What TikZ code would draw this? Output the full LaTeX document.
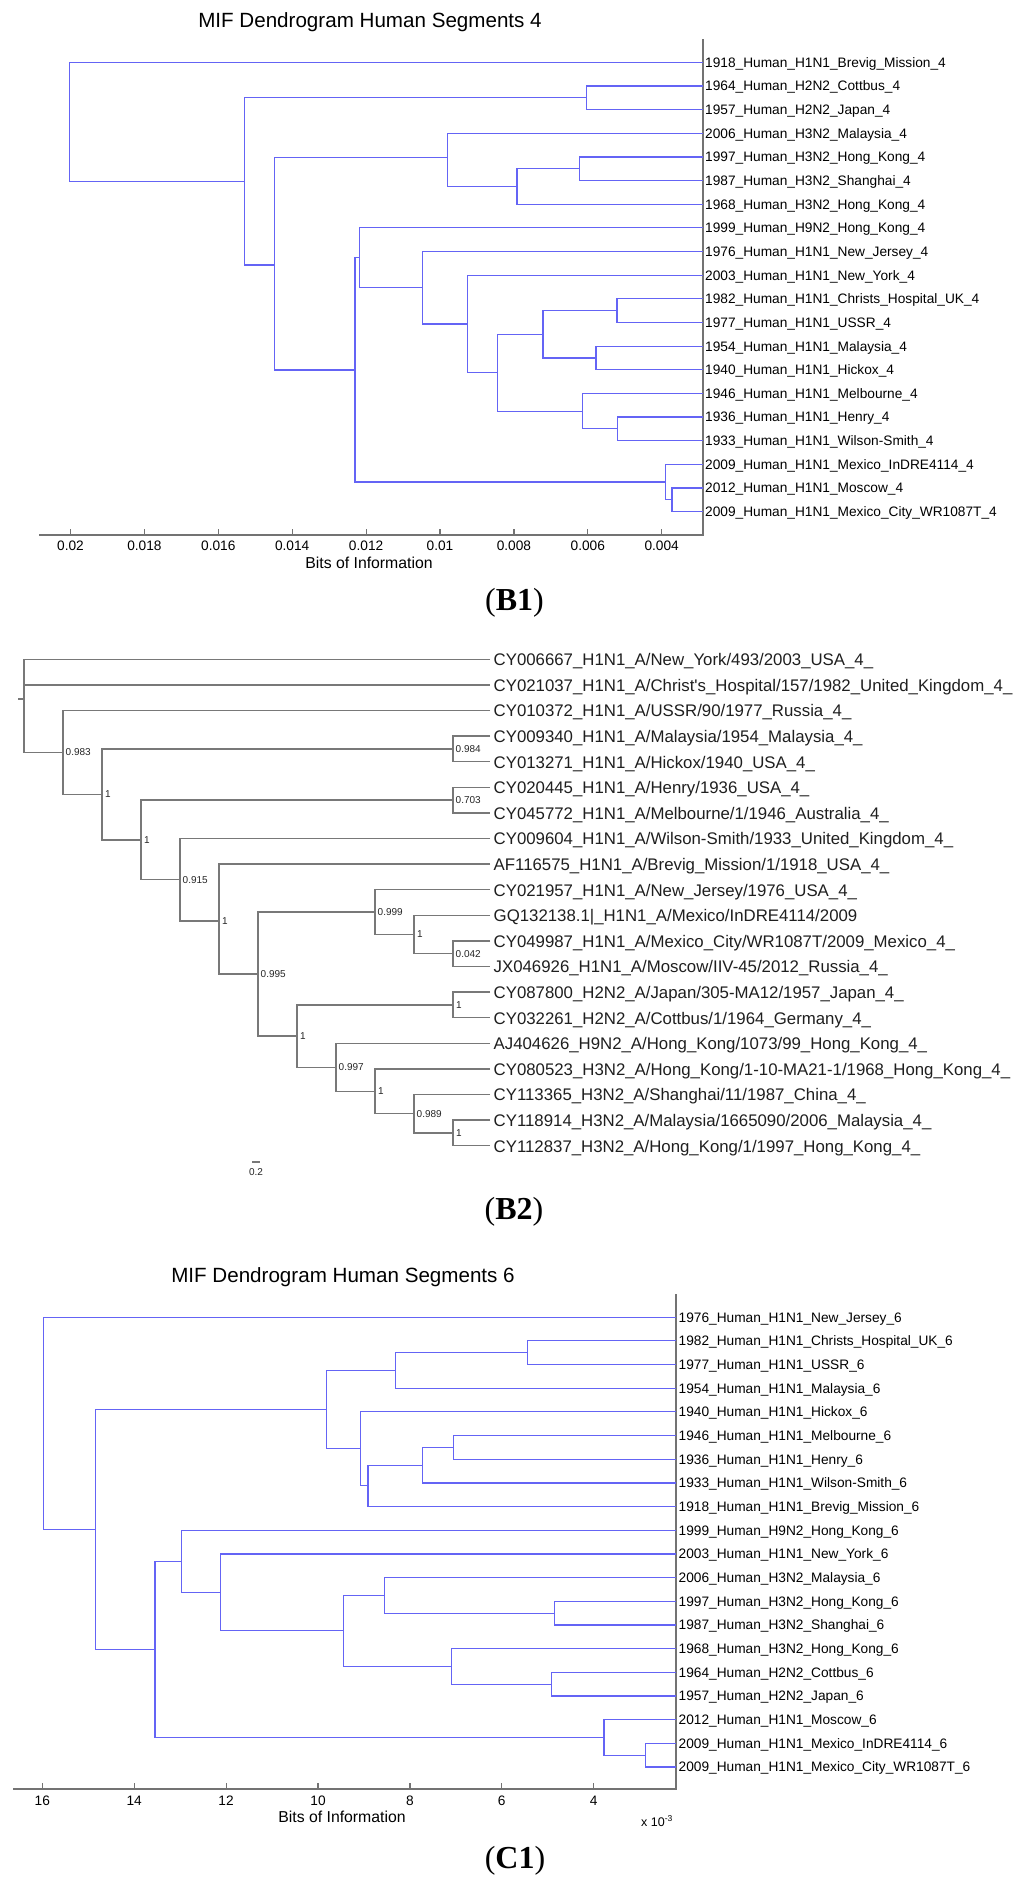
\documentclass[tikz,border=0pt]{standalone}
\usepackage{fontspec}
\newfontfamily\lsans{Liberation Sans}
\newfontfamily\lserif{Liberation Serif}
\definecolor{dblue}{RGB}{100,100,245}
\definecolor{axgray}{RGB}{115,115,115}
\definecolor{tgray}{RGB}{120,120,120}
\begin{document}
\begin{tikzpicture}[x=1pt,y=-1pt,
  dend/.style={draw=dblue, line width=1.2pt},
  axisl/.style={draw=axgray, line width=1.2pt},
  tree/.style={draw=tgray, line width=1.3pt},
  leaflab/.style={anchor=base west, inner sep=0pt, font=\lsans\fontsize{13.7}{16}\selectfont, text=black},
  ticklab/.style={anchor=center, inner sep=0pt, font=\lsans\fontsize{13.7}{16}\selectfont, text=black},
  ttl/.style={anchor=base, inner sep=0pt, font=\lsans\fontsize{20.6}{24}\selectfont, text=black},
  xlab/.style={anchor=base, inner sep=0pt, font=\lsans\fontsize{15.8}{18}\selectfont, text=black},
  b2lab/.style={anchor=base west, inner sep=0pt, font=\lsans\fontsize{16.8}{20}\selectfont, text=black!88},
  sup/.style={anchor=west, inner sep=0pt, font=\lsans\fontsize{10}{12}\selectfont, text=black!85},
  panel/.style={anchor=base, inner sep=0pt, font=\lserif\fontsize{32}{36}\selectfont, text=black}]
\fill[white] (0,0) rectangle (1024,1882);
\useasboundingbox (0,0) rectangle (1024,1882);

%% ================= B1 =================
\node[ttl] (b1title) at (370,27.9) {MIF Dendrogram Human Segments 4};
\coordinate (b1ax0) at (39,535);
\coordinate (b1ax1) at (703,535);
\coordinate (b1ax2) at (703,38.6);
\draw[axisl] (b1ax0) -- (b1ax1) -- (b1ax2);
\foreach \k/\tv in {0/0.02,1/0.018,2/0.016,3/0.014,4/0.012,5/0.01,6/0.008,7/0.006,8/0.004} {
  \coordinate (b1tk\k) at ({70.5+73.9*\k},535);
  \draw[axisl] (b1tk\k) -- ++(0,-6);
  \node[ticklab] (b1tl\k) at ({70.5+73.9*\k},546) {\tv};
}
\node[xlab] (b1xl) at (369,568) {Bits of Information};
\node[panel] (b1panel) at (514.5,610) {(\textbf{B1})};

\foreach \i in {0,...,19} { \coordinate (b1l\i) at (703,{62.3+23.65*\i}); }
\node[leaflab] (b1t0) at (705,{67.2+23.65*0}) {1918\_Human\_H1N1\_Brevig\_Mission\_4};
\node[leaflab] (b1t1) at (705,{67.2+23.65*1}) {1964\_Human\_H2N2\_Cottbus\_4};
\node[leaflab] (b1t2) at (705,{67.2+23.65*2}) {1957\_Human\_H2N2\_Japan\_4};
\node[leaflab] (b1t3) at (705,{67.2+23.65*3}) {2006\_Human\_H3N2\_Malaysia\_4};
\node[leaflab] (b1t4) at (705,{67.2+23.65*4}) {1997\_Human\_H3N2\_Hong\_Kong\_4};
\node[leaflab] (b1t5) at (705,{67.2+23.65*5}) {1987\_Human\_H3N2\_Shanghai\_4};
\node[leaflab] (b1t6) at (705,{67.2+23.65*6}) {1968\_Human\_H3N2\_Hong\_Kong\_4};
\node[leaflab] (b1t7) at (705,{67.2+23.65*7}) {1999\_Human\_H9N2\_Hong\_Kong\_4};
\node[leaflab] (b1t8) at (705,{67.2+23.65*8}) {1976\_Human\_H1N1\_New\_Jersey\_4};
\node[leaflab] (b1t9) at (705,{67.2+23.65*9}) {2003\_Human\_H1N1\_New\_York\_4};
\node[leaflab] (b1t10) at (705,{67.2+23.65*10}) {1982\_Human\_H1N1\_Christs\_Hospital\_UK\_4};
\node[leaflab] (b1t11) at (705,{67.2+23.65*11}) {1977\_Human\_H1N1\_USSR\_4};
\node[leaflab] (b1t12) at (705,{67.2+23.65*12}) {1954\_Human\_H1N1\_Malaysia\_4};
\node[leaflab] (b1t13) at (705,{67.2+23.65*13}) {1940\_Human\_H1N1\_Hickox\_4};
\node[leaflab] (b1t14) at (705,{67.2+23.65*14}) {1946\_Human\_H1N1\_Melbourne\_4};
\node[leaflab] (b1t15) at (705,{67.2+23.65*15}) {1936\_Human\_H1N1\_Henry\_4};
\node[leaflab] (b1t16) at (705,{67.2+23.65*16}) {1933\_Human\_H1N1\_Wilson-Smith\_4};
\node[leaflab] (b1t17) at (705,{67.2+23.65*17}) {2009\_Human\_H1N1\_Mexico\_InDRE4114\_4};
\node[leaflab] (b1t18) at (705,{67.2+23.65*18}) {2012\_Human\_H1N1\_Moscow\_4};
\node[leaflab] (b1t19) at (705,{67.2+23.65*19}) {2009\_Human\_H1N1\_Mexico\_City\_WR1087T\_4};

\coordinate (b1G) at (579.5,168.73);
\coordinate (b1F) at (517.0,186.46);
\coordinate (b1D) at (447.8,157.86);
\coordinate (b1B) at (586.2,97.78);
\coordinate (b1O) at (617.0,310.63);
\coordinate (b1P) at (596.0,357.93);
\coordinate (b1M) at (542.9,334.28);
\coordinate (b1Q) at (617.4,428.88);
\coordinate (b1N) at (582.1,411.14);
\coordinate (b1L) at (497.8,372.71);
\coordinate (b1K) at (467.4,323.93);
\coordinate (b1J) at (422.3,287.71);
\coordinate (b1H) at (359.4,257.78);
\coordinate (b1R) at (671.9,499.83);
\coordinate (b1I) at (665.2,482.09);
\coordinate (b1E) at (354.9,369.94);
\coordinate (b1C) at (274.6,264.9);
\coordinate (b1A) at (244.6,181.34);
\coordinate (b1root) at (69.2,121.82);

\draw[dend] (b1l4) -| (b1G) |- (b1l5);
\draw[dend] (b1G) -| (b1F) |- (b1l6);
\draw[dend] (b1l3) -| (b1D) |- (b1F);
\draw[dend] (b1l1) -| (b1B) |- (b1l2);
\draw[dend] (b1l10) -| (b1O) |- (b1l11);
\draw[dend] (b1l12) -| (b1P) |- (b1l13);
\draw[dend] (b1O) -| (b1M) |- (b1P);
\draw[dend] (b1l15) -| (b1Q) |- (b1l16);
\draw[dend] (b1l14) -| (b1N) |- (b1Q);
\draw[dend] (b1M) -| (b1L) |- (b1N);
\draw[dend] (b1l9) -| (b1K) |- (b1L);
\draw[dend] (b1l8) -| (b1J) |- (b1K);
\draw[dend] (b1l7) -| (b1H) |- (b1J);
\draw[dend] (b1l18) -| (b1R) |- (b1l19);
\draw[dend] (b1l17) -| (b1I) |- (b1R);
\draw[dend] (b1H) -| (b1E) |- (b1I);
\draw[dend] (b1D) -| (b1C) |- (b1E);
\draw[dend] (b1B) -| (b1A) |- (b1C);
\draw[dend] (b1l0) -| (b1root) |- (b1A);

%% ================= B2 =================
\foreach \i in {0,...,19} { \coordinate (b2l\i) at (490,{659.3+25.6*\i}); }
\node[b2lab] (b2t0) at (493.5,{665.6+25.6*0}) {CY006667\_H1N1\_A/New\_York/493/2003\_USA\_4\_};
\node[b2lab] (b2t1) at (493.5,{665.6+25.6*1}) {CY021037\_H1N1\_A/Christ's\_Hospital/157/1982\_United\_Kingdom\_4\_};
\node[b2lab] (b2t2) at (493.5,{665.6+25.6*2}) {CY010372\_H1N1\_A/USSR/90/1977\_Russia\_4\_};
\node[b2lab] (b2t3) at (493.5,{665.6+25.6*3}) {CY009340\_H1N1\_A/Malaysia/1954\_Malaysia\_4\_};
\node[b2lab] (b2t4) at (493.5,{665.6+25.6*4}) {CY013271\_H1N1\_A/Hickox/1940\_USA\_4\_};
\node[b2lab] (b2t5) at (493.5,{665.6+25.6*5}) {CY020445\_H1N1\_A/Henry/1936\_USA\_4\_};
\node[b2lab] (b2t6) at (493.5,{665.6+25.6*6}) {CY045772\_H1N1\_A/Melbourne/1/1946\_Australia\_4\_};
\node[b2lab] (b2t7) at (493.5,{665.6+25.6*7}) {CY009604\_H1N1\_A/Wilson-Smith/1933\_United\_Kingdom\_4\_};
\node[b2lab] (b2t8) at (493.5,{665.6+25.6*8}) {AF116575\_H1N1\_A/Brevig\_Mission/1/1918\_USA\_4\_};
\node[b2lab] (b2t9) at (493.5,{665.6+25.6*9}) {CY021957\_H1N1\_A/New\_Jersey/1976\_USA\_4\_};
\node[b2lab] (b2t10) at (493.5,{665.6+25.6*10}) {GQ132138.1|\_H1N1\_A/Mexico/InDRE4114/2009};
\node[b2lab] (b2t11) at (493.5,{665.6+25.6*11}) {CY049987\_H1N1\_A/Mexico\_City/WR1087T/2009\_Mexico\_4\_};
\node[b2lab] (b2t12) at (493.5,{665.6+25.6*12}) {JX046926\_H1N1\_A/Moscow/IIV-45/2012\_Russia\_4\_};
\node[b2lab] (b2t13) at (493.5,{665.6+25.6*13}) {CY087800\_H2N2\_A/Japan/305-MA12/1957\_Japan\_4\_};
\node[b2lab] (b2t14) at (493.5,{665.6+25.6*14}) {CY032261\_H2N2\_A/Cottbus/1/1964\_Germany\_4\_};
\node[b2lab] (b2t15) at (493.5,{665.6+25.6*15}) {AJ404626\_H9N2\_A/Hong\_Kong/1073/99\_Hong\_Kong\_4\_};
\node[b2lab] (b2t16) at (493.5,{665.6+25.6*16}) {CY080523\_H3N2\_A/Hong\_Kong/1-10-MA21-1/1968\_Hong\_Kong\_4\_};
\node[b2lab] (b2t17) at (493.5,{665.6+25.6*17}) {CY113365\_H3N2\_A/Shanghai/11/1987\_China\_4\_};
\node[b2lab] (b2t18) at (493.5,{665.6+25.6*18}) {CY118914\_H3N2\_A/Malaysia/1665090/2006\_Malaysia\_4\_};
\node[b2lab] (b2t19) at (493.5,{665.6+25.6*19}) {CY112837\_H3N2\_A/Hong\_Kong/1/1997\_Hong\_Kong\_4\_};

\coordinate (b2root) at (24,698.9);
\coordinate (b2stub) at (18.3,698.9);
\coordinate (b2N1) at (63,752.5);
\coordinate (b2N2) at (102,794.4);
\coordinate (b2Na) at (453,748.9);
\coordinate (b2N3) at (141,839.9);
\coordinate (b2Nb) at (453,800.1);
\coordinate (b2N4) at (180,879.8);
\coordinate (b2N5) at (219,921.0);
\coordinate (b2N6) at (258,974.1);
\coordinate (b2N7) at (375,912.1);
\coordinate (b2N9) at (414,934.5);
\coordinate (b2N10) at (453,953.7);
\coordinate (b2N8) at (297,1036.1);
\coordinate (b2N11) at (453,1004.9);
\coordinate (b2N12) at (336,1067.3);
\coordinate (b2N13) at (375,1091.3);
\coordinate (b2N14) at (414,1113.7);
\coordinate (b2N15) at (453,1132.9);

\draw[tree] (b2l0) -| (b2root) |- (b2N1);
\draw[tree] (b2root) |- (b2l1);
\draw[tree] (b2stub) -- (b2root);
\draw[tree] (b2l2) -| (b2N1) |- (b2N2);
\draw[tree] (b2Na) -| (b2N2) |- (b2N3);
\draw[tree] (b2l3) -| (b2Na) |- (b2l4);
\draw[tree] (b2Nb) -| (b2N3) |- (b2N4);
\draw[tree] (b2l5) -| (b2Nb) |- (b2l6);
\draw[tree] (b2l7) -| (b2N4) |- (b2N5);
\draw[tree] (b2l8) -| (b2N5) |- (b2N6);
\draw[tree] (b2N7) -| (b2N6) |- (b2N8);
\draw[tree] (b2l9) -| (b2N7) |- (b2N9);
\draw[tree] (b2l10) -| (b2N9) |- (b2N10);
\draw[tree] (b2l11) -| (b2N10) |- (b2l12);
\draw[tree] (b2N11) -| (b2N8) |- (b2N12);
\draw[tree] (b2l13) -| (b2N11) |- (b2l14);
\draw[tree] (b2l15) -| (b2N12) |- (b2N13);
\draw[tree] (b2l16) -| (b2N13) |- (b2N14);
\draw[tree] (b2l17) -| (b2N14) |- (b2N15);
\draw[tree] (b2l18) -| (b2N15) |- (b2l19);

\node[sup] (b2s1) at ([xshift=2.5pt]b2N1) {0.983};
\node[sup] (b2s2) at ([xshift=3pt]b2N2) {1};
\node[sup] (b2sa) at ([xshift=2.5pt]b2Na) {0.984};
\node[sup] (b2s3) at ([xshift=3pt]b2N3) {1};
\node[sup] (b2sb) at ([xshift=2.5pt]b2Nb) {0.703};
\node[sup] (b2s4) at ([xshift=2.5pt]b2N4) {0.915};
\node[sup] (b2s5) at ([xshift=3pt]b2N5) {1};
\node[sup] (b2s6) at ([xshift=2.5pt]b2N6) {0.995};
\node[sup] (b2s7) at ([xshift=2.5pt]b2N7) {0.999};
\node[sup] (b2s9) at ([xshift=3pt]b2N9) {1};
\node[sup] (b2s10) at ([xshift=2.5pt]b2N10) {0.042};
\node[sup] (b2s8) at ([xshift=3pt]b2N8) {1};
\node[sup] (b2s11) at ([xshift=3pt]b2N11) {1};
\node[sup] (b2s12) at ([xshift=2.5pt]b2N12) {0.997};
\node[sup] (b2s13) at ([xshift=3pt]b2N13) {1};
\node[sup] (b2s14) at ([xshift=2.5pt]b2N14) {0.989};
\node[sup] (b2s15) at ([xshift=3pt]b2N15) {1};

\coordinate (b2sb0) at (252,1162);
\coordinate (b2sb1) at (260,1162);
\draw[tree] (b2sb0) -- (b2sb1);
\node[sup, anchor=center] (b2sbl) at (256,1172.4) {0.2};
\node[panel] (b2panel) at (514,1219.5) {(\textbf{B2})};

%% ================= C1 =================
\node[ttl] (c1title) at (343,1282.4) {MIF Dendrogram Human Segments 6};
\coordinate (c1ax0) at (13.4,1789);
\coordinate (c1ax1) at (676,1789);
\coordinate (c1ax2) at (676,1293.5);
\draw[axisl] (c1ax0) -- (c1ax1) -- (c1ax2);
\foreach \k/\tv in {0/16,1/14,2/12,3/10,4/8,5/6,6/4} {
  \coordinate (c1tk\k) at ({42.3+91.9*\k},1789);
  \draw[axisl] (c1tk\k) -- ++(0,-6);
  \node[ticklab] (c1tl\k) at ({42.3+91.9*\k},1800.7) {\tv};
}
\node[xlab] (c1xl) at (342,1822.4) {Bits of Information};
\node[anchor=base west, inner sep=0pt, font=\lsans\fontsize{12.5}{14}\selectfont] (c1exp) at (641,1826) {x 10\raisebox{5pt}{\fontsize{8.5}{10}\selectfont -3}};
\node[panel] (c1panel) at (515,1868) {(\textbf{C1})};

\foreach \i in {0,...,19} { \coordinate (c1l\i) at (676,{1317.2+23.67*\i}); }
\node[leaflab] (c1t0) at (678.5,{1322.1+23.67*0}) {1976\_Human\_H1N1\_New\_Jersey\_6};
\node[leaflab] (c1t1) at (678.5,{1322.1+23.67*1}) {1982\_Human\_H1N1\_Christs\_Hospital\_UK\_6};
\node[leaflab] (c1t2) at (678.5,{1322.1+23.67*2}) {1977\_Human\_H1N1\_USSR\_6};
\node[leaflab] (c1t3) at (678.5,{1322.1+23.67*3}) {1954\_Human\_H1N1\_Malaysia\_6};
\node[leaflab] (c1t4) at (678.5,{1322.1+23.67*4}) {1940\_Human\_H1N1\_Hickox\_6};
\node[leaflab] (c1t5) at (678.5,{1322.1+23.67*5}) {1946\_Human\_H1N1\_Melbourne\_6};
\node[leaflab] (c1t6) at (678.5,{1322.1+23.67*6}) {1936\_Human\_H1N1\_Henry\_6};
\node[leaflab] (c1t7) at (678.5,{1322.1+23.67*7}) {1933\_Human\_H1N1\_Wilson-Smith\_6};
\node[leaflab] (c1t8) at (678.5,{1322.1+23.67*8}) {1918\_Human\_H1N1\_Brevig\_Mission\_6};
\node[leaflab] (c1t9) at (678.5,{1322.1+23.67*9}) {1999\_Human\_H9N2\_Hong\_Kong\_6};
\node[leaflab] (c1t10) at (678.5,{1322.1+23.67*10}) {2003\_Human\_H1N1\_New\_York\_6};
\node[leaflab] (c1t11) at (678.5,{1322.1+23.67*11}) {2006\_Human\_H3N2\_Malaysia\_6};
\node[leaflab] (c1t12) at (678.5,{1322.1+23.67*12}) {1997\_Human\_H3N2\_Hong\_Kong\_6};
\node[leaflab] (c1t13) at (678.5,{1322.1+23.67*13}) {1987\_Human\_H3N2\_Shanghai\_6};
\node[leaflab] (c1t14) at (678.5,{1322.1+23.67*14}) {1968\_Human\_H3N2\_Hong\_Kong\_6};
\node[leaflab] (c1t15) at (678.5,{1322.1+23.67*15}) {1964\_Human\_H2N2\_Cottbus\_6};
\node[leaflab] (c1t16) at (678.5,{1322.1+23.67*16}) {1957\_Human\_H2N2\_Japan\_6};
\node[leaflab] (c1t17) at (678.5,{1322.1+23.67*17}) {2012\_Human\_H1N1\_Moscow\_6};
\node[leaflab] (c1t18) at (678.5,{1322.1+23.67*18}) {2009\_Human\_H1N1\_Mexico\_InDRE4114\_6};
\node[leaflab] (c1t19) at (678.5,{1322.1+23.67*19}) {2009\_Human\_H1N1\_Mexico\_City\_WR1087T\_6};

\coordinate (c1D) at (527.7,1352.71);
\coordinate (c1C) at (395.1,1370.46);
\coordinate (c1H) at (453.1,1447.39);
\coordinate (c1G) at (422.3,1465.14);
\coordinate (c1F) at (367.9,1485.85);
\coordinate (c1E) at (360.3,1448.86);
\coordinate (c1B) at (326.8,1409.66);
\coordinate (c1N) at (554.5,1613.08);
\coordinate (c1M) at (384.8,1595.32);
\coordinate (c1P) at (551.3,1684.09);
\coordinate (c1O) at (451.8,1666.33);
\coordinate (c1L) at (343.3,1630.83);
\coordinate (c1K) at (220.5,1592.36);
\coordinate (c1J) at (181.7,1561.3);
\coordinate (c1R) at (645.1,1755.1);
\coordinate (c1Q) at (604.0,1737.34);
\coordinate (c1I) at (154.9,1649.32);
\coordinate (c1A) at (95.1,1529.49);
\coordinate (c1root) at (43.3,1423.35);

\draw[dend] (c1l1) -| (c1D) |- (c1l2);
\draw[dend] (c1D) -| (c1C) |- (c1l3);
\draw[dend] (c1l5) -| (c1H) |- (c1l6);
\draw[dend] (c1H) -| (c1G) |- (c1l7);
\draw[dend] (c1G) -| (c1F) |- (c1l8);
\draw[dend] (c1l4) -| (c1E) |- (c1F);
\draw[dend] (c1C) -| (c1B) |- (c1E);
\draw[dend] (c1l12) -| (c1N) |- (c1l13);
\draw[dend] (c1l11) -| (c1M) |- (c1N);
\draw[dend] (c1l15) -| (c1P) |- (c1l16);
\draw[dend] (c1l14) -| (c1O) |- (c1P);
\draw[dend] (c1M) -| (c1L) |- (c1O);
\draw[dend] (c1l10) -| (c1K) |- (c1L);
\draw[dend] (c1l9) -| (c1J) |- (c1K);
\draw[dend] (c1l18) -| (c1R) |- (c1l19);
\draw[dend] (c1l17) -| (c1Q) |- (c1R);
\draw[dend] (c1J) -| (c1I) |- (c1Q);
\draw[dend] (c1B) -| (c1A) |- (c1I);
\draw[dend] (c1l0) -| (c1root) |- (c1A);
\end{tikzpicture}
\end{document}
